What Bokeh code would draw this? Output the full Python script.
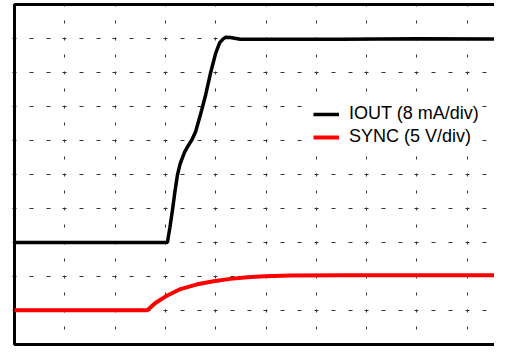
from bokeh.plotting import figure
from bokeh.models import Range1d, FixedTicker, Legend, LegendItem
from bokeh.embed import file_html
from bokeh.resources import INLINE

# Time axis in divisions, amplitudes in divisions
t_iout = [0.0, 3.04, 3.09, 3.14, 3.19, 3.24, 3.29, 3.33, 3.38, 3.43, 3.53, 3.60,
          3.70, 3.80, 3.90, 4.00, 4.08, 4.15, 4.20, 4.29, 4.49, 4.89, 6.50, 8.00, 10.0]
v_iout = [3.0, 3.0, 3.45, 3.95, 4.50, 4.99, 5.30, 5.46, 5.65, 5.79, 6.03, 6.26,
          6.78, 7.34, 8.00, 8.57, 8.88, 8.99, 9.04, 9.03, 8.98, 8.98, 8.98, 8.99, 8.98]

t_sync = [0.0, 2.64, 2.80, 3.00, 3.30, 3.63, 3.96, 4.29, 4.63, 4.96, 5.49, 6.50, 8.00, 10.0]
v_sync = [1.01, 1.01, 1.22, 1.41, 1.63, 1.77, 1.86, 1.93, 1.98, 2.01, 2.03, 2.04, 2.04, 2.04]

grid_x = [1, 2, 3, 4, 5, 6, 7, 8, 9]
grid_y = [1, 2, 3, 4, 5, 6, 7, 8, 9]

# graticule frame: top, left and bottom edges
frame_x = [10.5, 0, 0, 10.5]
frame_y = [10, 10, 0, 0]

label_iout = "IOUT (8 mA/div)"
label_sync = "SYNC (5 V/div)"

PX_X = 50.3   # pixels per horizontal division
PX_Y = 34.0   # pixels per vertical division
W, H = 494, 346

p = figure(width=W, height=H, output_backend="svg", toolbar_location=None,
           x_range=Range1d(-14 / PX_X, (W - 14) / PX_X),
           y_range=Range1d(-2 / PX_Y, 10 + 4 / PX_Y),
           x_axis_location=None, y_axis_location=None,
           min_border_left=0, min_border_right=0, min_border_top=0, min_border_bottom=0)
p.outline_line_color = None
p.background_fill_color = "white"
p.border_fill_color = "white"

p.xgrid.ticker = FixedTicker(ticks=grid_x)
p.ygrid.ticker = FixedTicker(ticks=grid_y)
p.xgrid.grid_line_color = "#333333"
p.ygrid.grid_line_color = "#333333"
p.xgrid.grid_line_width = 1
p.ygrid.grid_line_width = 1
p.xgrid.grid_line_dash = "3 14"
p.xgrid.grid_line_dash_offset = 0
p.ygrid.grid_line_dash = "4 13 4 13 4 12 4 13 4 13 4 12 4 13 4 13 4 13"
p.ygrid.grid_line_dash_offset = 139

p.line(x=frame_x, y=frame_y, line_color="black", line_width=3)

r_sync = p.line(t_sync, v_sync, line_color="#FF0000", line_width=4)
r_iout = p.line(t_iout, v_iout, line_color="#000000", line_width=3.5)

legend = Legend(items=[LegendItem(label=label_iout, renderers=[r_iout]),
                       LegendItem(label=label_sync, renderers=[r_sync])],
                location=(313, 199))
legend.label_text_font = "Liberation Sans"
legend.label_text_font_size = "18px"
legend.label_text_color = "black"
legend.glyph_width = 26
legend.glyph_height = 20
legend.label_standoff = 10
legend.padding = 8
legend.spacing = 2
legend.margin = 0
legend.border_line_color = None
legend.background_fill_color = "white"
legend.background_fill_alpha = 1.0
p.add_layout(legend, "center")

open("out.html", "w").write(file_html(p, INLINE))
